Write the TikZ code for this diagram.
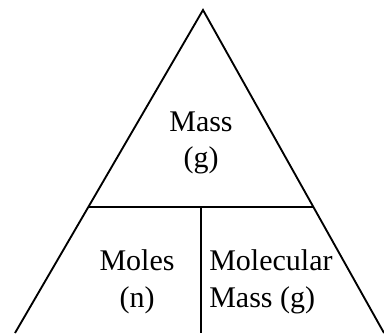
\documentclass[tikz,border=0pt]{standalone}
\usepackage{fontspec}
\setmainfont{Liberation Serif}
\usepackage{tikz}
\usetikzlibrary{calc}

\begin{document}
\begin{tikzpicture}[
    x=0.75pt, y=-0.75pt,
    font=\fontsize{22.5}{27.5}\selectfont,
    edge/.style={draw, line width=1.4pt},
    lbl/.style={inner sep=0pt, align=center},
  ]
    \useasboundingbox (0,0) rectangle (384,333);

    \coordinate (apex) at (203,10);
    \coordinate (bl) at (15,333);
    \coordinate (br) at (384,333);
    \coordinate (ml) at ($(apex)!0.61!(bl)$);
    \coordinate (mr) at ($(apex)!0.61!(br)$);
    \coordinate (mt) at (201,207);
    \coordinate (mb) at (201,333);

    \draw[edge] (bl) -- (apex) -- (br);
    \draw[edge] (ml) -- (mr);
    \draw[edge] (mt) -- (mb);

    \node[lbl] (mass) at (201,143) {Mass\\(g)};
    \node[lbl] (moles) at (137,282) {Moles\\(n)};
    \node[lbl, align=left, anchor=west] (molmass) at (209,282) {Molecular\\Mass (g)};
  \end{tikzpicture}
\end{document}
